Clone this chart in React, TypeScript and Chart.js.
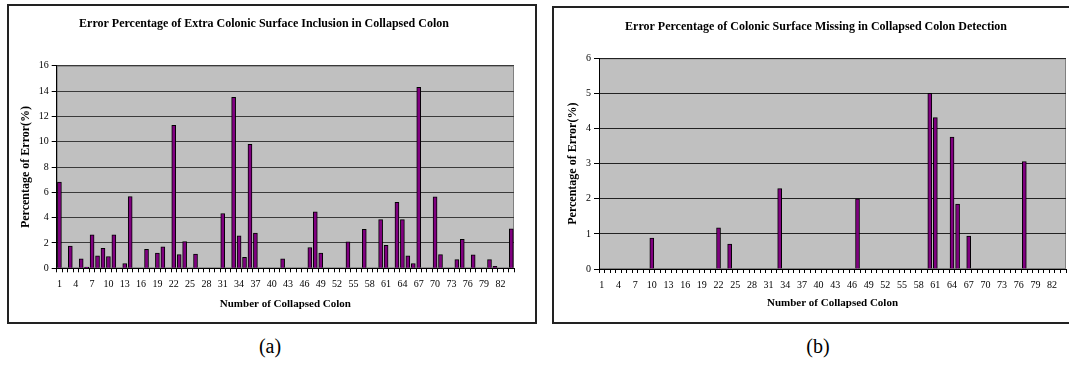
import React, { useEffect, useRef } from 'react';
import { Chart, registerables } from 'chart.js';

Chart.register(...registerables);

const FONT = "'Liberation Serif', 'Times New Roman', serif";

const categories = [
  1, 2, 3, 4, 5, 6, 7, 8, 9, 10, 11, 12, 13, 14, 15, 16, 17, 18, 19, 20,
  21, 22, 23, 24, 25, 26, 27, 28, 29, 30, 31, 32, 33, 34, 35, 36, 37, 38, 39, 40,
  41, 42, 43, 44, 45, 46, 47, 48, 49, 50, 51, 52, 53, 54, 55, 56, 57, 58, 59, 60,
  61, 62, 63, 64, 65, 66, 67, 68, 69, 70, 71, 72, 73, 74, 75, 76, 77, 78, 79, 80,
  81, 82, 83, 84,
];

const xTickLabels = [
  '1', '4', '7', '10', '13', '16', '19', '22', '25', '28', '31', '34', '37', '40',
  '43', '46', '49', '52', '55', '58', '61', '64', '67', '70', '73', '76', '79', '82',
];

// (a) Extra colonic surface inclusion, % error per collapsed colon
const extraInclusion = [
  6.8, 0, 1.75, 0, 0.75, 0.1, 2.64, 0.98, 1.58, 0.93,
  2.64, 0, 0.38, 5.66, 0, 0, 1.5, 0, 1.2, 1.69,
  0, 11.3, 1.08, 2.11, 0, 1.13, 0, 0, 0, 0,
  4.33, 0, 13.5, 2.57, 0.86, 9.8, 2.79, 0, 0, 0,
  0, 0.75, 0, 0, 0, 0, 1.64, 4.45, 1.2, 0,
  0, 0, 0, 2.09, 0, 0, 3.07, 0, 0, 3.85,
  1.81, 0, 5.21, 3.85, 0.98, 0.38, 14.3, 0, 0, 5.64,
  1.08, 0, 0, 0.68, 2.29, 0, 1.06, 0, 0, 0.68,
  0.15, 0, 0, 3.12,
];

// (b) Colonic surface missing, % error per collapsed colon
const surfaceMissing = [
  0, 0, 0, 0, 0, 0, 0, 0, 0, 0.88,
  0, 0, 0, 0, 0, 0, 0, 0, 0, 0,
  0, 1.17, 0, 0.71, 0, 0, 0, 0, 0, 0,
  0, 0, 2.29, 0, 0, 0, 0, 0, 0, 0,
  0, 0, 0, 0, 0, 0, 2.0, 0, 0, 0,
  0, 0, 0, 0, 0, 0, 0, 0, 0, 5.0,
  4.31, 0, 0, 3.76, 1.85, 0, 0.94, 0, 0, 0,
  0, 0, 0, 0, 0, 0, 3.06, 0, 0, 0,
  0, 0, 0, 0,
];

const yTicksA = [0, 2, 4, 6, 8, 10, 12, 14, 16];
const yTicksB = [0, 1, 2, 3, 4, 5, 6];

const titleA = 'Error Percentage of Extra Colonic Surface Inclusion in Collapsed Colon';
const titleB = 'Error Percentage of Colonic Surface Missing in Collapsed Colon Detection';
const yTitle = 'Percentage of Error(%)';
const xTitle = 'Number of Collapsed Colon';

const plotBg = {
  id: 'plotBg',
  beforeDraw(chart: any) {
    const { ctx, chartArea: a } = chart;
    ctx.save();
    ctx.fillStyle = '#C0C0C0';
    ctx.fillRect(a.left, a.top, a.right - a.left, a.bottom - a.top);
    ctx.strokeStyle = '#808080';
    ctx.lineWidth = 1;
    ctx.strokeRect(a.left + 0.5, a.top + 0.5, a.right - a.left - 1, a.bottom - a.top - 1);
    ctx.restore();
  },
};

type Props = {
  title: string;
  values: number[];
  yTicks: number[];
  w: number;
  h: number;
  padL: number;
  padR: number;
  yWidth: number;
  yTitlePad: number;
  xHeight: number;
  titleTop: number;
  titleBottom: number;
  xTitleBottom: number;
  gridColor: string;
};

function BarChart(p: Props) {
  const ref = useRef<HTMLCanvasElement | null>(null);
  useEffect(() => {
    if (!ref.current) return;
    const chart = new Chart(ref.current, {
      type: 'bar',
      data: {
        labels: categories.map(String),
        datasets: [
          {
            data: p.values,
            backgroundColor: '#800080',
            borderColor: '#000000',
            borderWidth: 1,
            borderSkipped: 'bottom',
            barThickness: 4,
          },
        ],
      },
      options: {
        responsive: false,
        animation: false,
        layout: { padding: { left: p.padL, right: p.padR, top: 0, bottom: 0 } },
        plugins: {
          legend: { display: false },
          tooltip: { enabled: false },
          title: {
            display: true,
            text: p.title,
            color: '#000',
            font: { family: FONT, size: 12, weight: 'bold' },
            padding: { top: p.titleTop, bottom: p.titleBottom },
          },
        },
        scales: {
          x: {
            type: 'category',
            offset: true,
            afterFit: (s: any) => {
              s.height = p.xHeight;
            },
            grid: {
              offset: true,
              drawOnChartArea: false,
              tickLength: 4,
              tickColor: '#000',
            },
            border: { color: '#000', width: 1 },
            ticks: {
              autoSkip: false,
              maxRotation: 0,
              minRotation: 0,
              padding: 6,
              color: '#000',
              font: { family: FONT, size: 10 },
              callback: (_v: any, i: number) => {
                const l = String(categories[i]);
                return xTickLabels.includes(l) ? l : '';
              },
            },
            title: {
              display: true,
              text: xTitle,
              color: '#000',
              font: { family: FONT, size: 11, weight: 'bold' },
              padding: { top: 0, bottom: p.xTitleBottom },
            },
          },
          y: {
            min: p.yTicks[0],
            max: p.yTicks[p.yTicks.length - 1],
            afterFit: (s: any) => {
              s.width = p.yWidth;
            },
            grid: {
              color: p.gridColor,
              lineWidth: 1,
              tickLength: 5,
              tickColor: '#000',
            },
            border: { color: '#000', width: 1 },
            ticks: {
              stepSize: p.yTicks[1] - p.yTicks[0],
              padding: 3,
              color: '#000',
              font: { family: FONT, size: 10 },
            },
            title: {
              display: true,
              text: yTitle,
              color: '#000',
              font: { family: FONT, size: 12, weight: 'bold' },
              padding: { top: p.yTitlePad, bottom: 0 },
            },
          },
        },
      },
      plugins: [plotBg],
    } as any);
    return () => chart.destroy();
  }, []);
  return <canvas ref={ref} width={p.w} height={p.h} style={{ display: 'block' }} />;
}

export default function App() {
  return (
    <div
      style={{
        position: 'absolute',
        left: 0,
        top: 0,
        width: 1069,
        height: 367,
        overflow: 'hidden',
        background: '#fff',
        fontFamily: FONT,
      }}
    >
      <div
        style={{
          position: 'absolute',
          left: 7,
          top: 4,
          width: 530,
          height: 320,
          boxSizing: 'border-box',
          border: '2px solid #222',
        }}
      />
      <div style={{ position: 'absolute', left: 9, top: 6 }}>
        <BarChart
          title={titleA}
          values={extraInclusion}
          yTicks={yTicksA}
          w={525}
          h={316}
          padL={5}
          padR={20}
          yWidth={42.7}
          yTitlePad={5}
          xHeight={53.7}
          titleTop={10.5}
          titleBottom={34.8}
          xTitleBottom={11}
          gridColor="#3a3a3a"
        />
      </div>
      <div
        style={{
          position: 'absolute',
          left: 552,
          top: 6,
          width: 540,
          height: 318,
          boxSizing: 'border-box',
          border: '2px solid #222',
        }}
      />
      <div style={{ position: 'absolute', left: 554, top: 8 }}>
        <BarChart
          title={titleB}
          values={surfaceMissing}
          yTicks={yTicksB}
          w={530}
          h={314}
          padL={12}
          padR={18}
          yWidth={33}
          yTitlePad={0}
          xHeight={53}
          titleTop={11.5}
          titleBottom={24.4}
          xTitleBottom={12}
          gridColor="#222"
        />
      </div>
      <div
        style={{
          position: 'absolute',
          left: 220,
          top: 333,
          width: 100,
          textAlign: 'center',
          fontSize: 20,
          lineHeight: '26px',
        }}
      >
        (a)
      </div>
      <div
        style={{
          position: 'absolute',
          left: 768,
          top: 333,
          width: 100,
          textAlign: 'center',
          fontSize: 20,
          lineHeight: '26px',
        }}
      >
        (b)
      </div>
    </div>
  );
}
